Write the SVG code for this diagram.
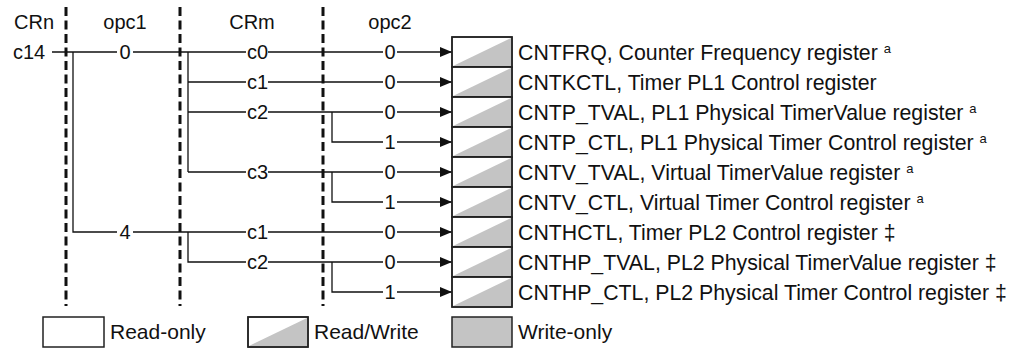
<svg xmlns="http://www.w3.org/2000/svg" width="1021" height="348" viewBox="0 0 1021 348">
<style>
text{font-family:"Liberation Sans",Arial,sans-serif;font-size:20px;fill:#111}
.m{text-anchor:middle}
.r{font-size:21.3px}
.lg{font-size:21px}
.dash{stroke:#111;stroke-width:3;stroke-dasharray:9 4.5;fill:none}
.ln{stroke:#111;stroke-width:1.3;fill:none}
.arr{stroke:#111;stroke-width:1.3;fill:none;marker-end:url(#ah)}
.box{fill:#fff;stroke:#222;stroke-width:1.5}
.tri{fill:#c4c4c4}
.wo{fill:#c4c4c4;stroke:#222;stroke-width:1.5}
.sup{font-size:13px}
</style>
<defs>
<marker id="ah" markerUnits="userSpaceOnUse" markerWidth="12" markerHeight="10" refX="12" refY="5" orient="auto">
<path d="M0,0 L12,5 L0,10 z" fill="#111"/>
</marker>
<g id="rw">
<rect class="box" x="0" y="0" width="60" height="30"/>
<path class="tri" d="M1,29 L59,1 L59,29 z"/>
<rect x="0" y="0" width="60" height="30" fill="none" stroke="#222" stroke-width="1.5"/>
</g>
</defs>
<g id="headers">
<text x="14" y="28.5">CRn</text>
<text class="m" x="125" y="28.5">opc1</text>
<text class="m" x="252" y="28.5">CRm</text>
<text class="m" x="390" y="28.5">opc2</text>
</g>
<g id="connectors">
<path class="ln" d="M52 52 H117 M133 52 H246"/>
<path class="ln" d="M73 52 V232 H117 M133 232 H246"/>
<path class="ln" d="M188 52 V172 M188 82 H246 M188 112 H246 M188 172 H246"/>
<path class="ln" d="M188 232 V262 H246"/>
<path class="ln" d="M268 52 H383 M268 82 H383 M268 112 H383 M268 172 H383 M268 232 H383 M268 262 H383"/>
<path class="ln" d="M332 112 V142 H383 M332 172 V202 H383 M332 262 V292 H383"/>
<path class="arr" d="M397 52 H452"/>
<path class="arr" d="M397 82 H452"/>
<path class="arr" d="M397 112 H452"/>
<path class="arr" d="M397 142 H452"/>
<path class="arr" d="M397 172 H452"/>
<path class="arr" d="M397 202 H452"/>
<path class="arr" d="M397 232 H452"/>
<path class="arr" d="M397 262 H452"/>
<path class="arr" d="M397 292 H452"/>
</g>
<g id="dividers">
<line class="dash" x1="66" y1="7" x2="66" y2="306"/>
<line class="dash" x1="180" y1="7" x2="180" y2="306"/>
<line class="dash" x1="323" y1="7" x2="323" y2="306"/>
</g>
<g id="crn">
<text x="13" y="59">c14</text>
</g>
<g id="opc1">
<text class="m" x="125" y="59">0</text>
<text class="m" x="125" y="239">4</text>
</g>
<g id="crm">
<text x="247" y="59">c0</text>
<text x="247" y="89">c1</text>
<text x="247" y="119">c2</text>
<text x="247" y="179">c3</text>
<text x="247" y="239">c1</text>
<text x="247" y="269">c2</text>
</g>
<g id="opc2">
<text class="m" x="390" y="59">0</text>
<text class="m" x="390" y="89">0</text>
<text class="m" x="390" y="119">0</text>
<text class="m" x="390" y="149">1</text>
<text class="m" x="390" y="179">0</text>
<text class="m" x="390" y="209">1</text>
<text class="m" x="390" y="239">0</text>
<text class="m" x="390" y="269">0</text>
<text class="m" x="390" y="299">1</text>
</g>
<g id="reg-cntfrq"><use href="#rw" x="452" y="37"/><text class="r" x="518" y="59.5">CNTFRQ, Counter Frequency register <tspan class="sup" dy="-7">a</tspan></text></g>
<g id="reg-cntkctl"><use href="#rw" x="452" y="67"/><text class="r" x="518" y="89.5">CNTKCTL, Timer PL1 Control register</text></g>
<g id="reg-cntp-tval"><use href="#rw" x="452" y="97"/><text class="r" x="518" y="119.5">CNTP_TVAL, PL1 Physical TimerValue register <tspan class="sup" dy="-7">a</tspan></text></g>
<g id="reg-cntp-ctl"><use href="#rw" x="452" y="127"/><text class="r" x="518" y="149.5">CNTP_CTL, PL1 Physical Timer Control register <tspan class="sup" dy="-7">a</tspan></text></g>
<g id="reg-cntv-tval"><use href="#rw" x="452" y="157"/><text class="r" x="518" y="179.5">CNTV_TVAL, Virtual TimerValue register <tspan class="sup" dy="-7">a</tspan></text></g>
<g id="reg-cntv-ctl"><use href="#rw" x="452" y="187"/><text class="r" x="518" y="209.5">CNTV_CTL, Virtual Timer Control register <tspan class="sup" dy="-7">a</tspan></text></g>
<g id="reg-cnthctl"><use href="#rw" x="452" y="217"/><text class="r" x="518" y="239.5">CNTHCTL, Timer PL2 Control register ‡</text></g>
<g id="reg-cnthp-tval"><use href="#rw" x="452" y="247"/><text class="r" x="518" y="269.5">CNTHP_TVAL, PL2 Physical TimerValue register ‡</text></g>
<g id="reg-cnthp-ctl"><use href="#rw" x="452" y="277"/><text class="r" x="518" y="299.5">CNTHP_CTL, PL2 Physical Timer Control register ‡</text></g>
<g id="legend-ro"><rect class="box" x="43" y="317" width="61" height="30"/><text class="lg" x="110" y="339">Read-only</text></g>
<g id="legend-rw"><use href="#rw" x="248" y="317"/><text class="lg" x="314" y="339">Read/Write</text></g>
<g id="legend-wo"><rect class="wo" x="452" y="317" width="60" height="30"/><text class="lg" x="518" y="339">Write-only</text></g>
</svg>
